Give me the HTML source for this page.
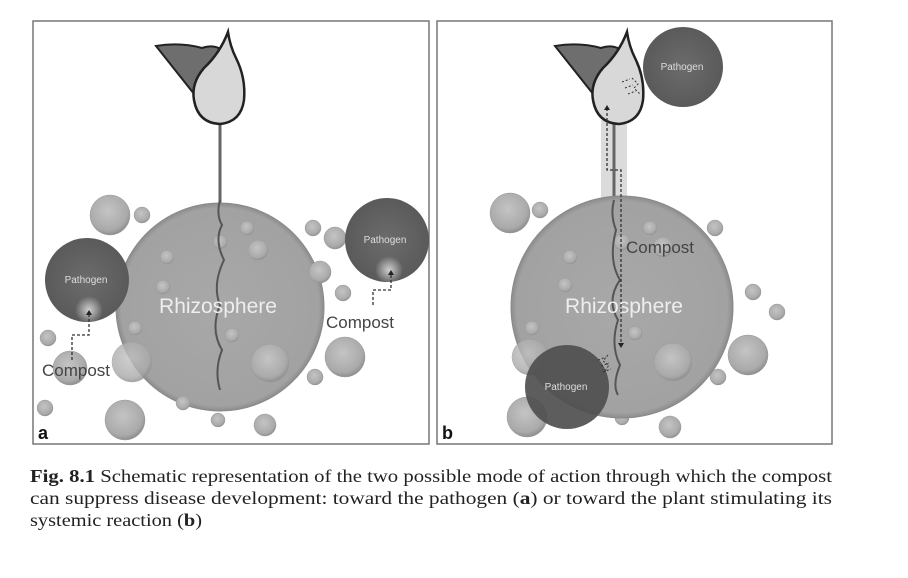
<!DOCTYPE html>
<html><head><meta charset="utf-8"><style>
html,body{margin:0;padding:0;background:#fff;}
svg{display:block}
</style></head><body>
<svg width="908" height="578" viewBox="0 0 908 578" xmlns="http://www.w3.org/2000/svg">
<defs>
<radialGradient id="sm" cx="45%" cy="40%" r="60%"><stop offset="0" stop-color="#c4c4c4"/><stop offset="0.8" stop-color="#aaa"/><stop offset="1" stop-color="#8f8f8f"/></radialGradient>
<radialGradient id="big" cx="50%" cy="50%" r="50%"><stop offset="0" stop-color="#a8a8a8"/><stop offset="0.95" stop-color="#a2a2a2"/><stop offset="1" stop-color="#8c8c8c"/></radialGradient>
<radialGradient id="pa" cx="50%" cy="50%" r="50%"><stop offset="0" stop-color="#6c6c6c"/><stop offset="1" stop-color="#5a5a5a"/></radialGradient>
<radialGradient id="glow"><stop offset="0" stop-color="#fff" stop-opacity="0.7"/><stop offset="1" stop-color="#fff" stop-opacity="0"/></radialGradient>
<g id="flower">
<path d="M-62,-42 Q-38,-46 -16,-40 Q-4,-44 4,-38 L-8,26 Z" fill="#6e6e6e" stroke="#222" stroke-width="2"/>
<path d="M10,-56 Q2,-35 -14,-20 Q-27,-5 -24,12 Q-20,35 2,36 Q23,34 26,12 Q28,-10 18,-30 Q12,-42 10,-56 Z" fill="#d8d8d8" stroke="#222" stroke-width="2.5"/>
</g>
</defs>
<rect width="908" height="578" fill="#fff"/>
<!-- panel a -->
<rect x="33" y="21" width="396" height="423" fill="#fff" stroke="#777" stroke-width="1.5"/>
<line x1="220" y1="122" x2="220" y2="205" stroke="#666" stroke-width="3"/>
<g fill="url(#sm)" stroke="#999" stroke-width="0.5">
<circle cx="110" cy="215" r="20"/><circle cx="142" cy="215" r="8"/><circle cx="313" cy="228" r="8"/><circle cx="335" cy="238" r="11"/>
<circle cx="343" cy="293" r="8"/><circle cx="48" cy="338" r="8"/><circle cx="70" cy="368" r="17"/>
<circle cx="345" cy="357" r="20"/><circle cx="315" cy="377" r="8"/><circle cx="45" cy="408" r="8"/><circle cx="125" cy="420" r="20"/><circle cx="218" cy="420" r="7"/><circle cx="265" cy="425" r="11"/>
</g>
<circle cx="220" cy="307" r="104" fill="url(#big)" stroke="#8a8a8a"/>
<g fill="url(#sm)" stroke="#999" stroke-width="0.5">
<circle cx="132" cy="362" r="20" opacity="0.8"/><circle cx="320" cy="272" r="11"/><circle cx="183" cy="403" r="7"/>
<circle cx="247" cy="228" r="7"/><circle cx="258" cy="250" r="10"/><circle cx="220" cy="242" r="7"/><circle cx="167" cy="257" r="7"/><circle cx="163" cy="287" r="7"/><circle cx="135" cy="328" r="7"/><circle cx="232" cy="335" r="7"/><circle cx="270" cy="363" r="19"/>
</g>
<path d="M220,200 Q216,215 222,225 Q214,240 224,260 Q212,285 220,305 Q210,330 222,350 Q214,370 220,390" fill="none" stroke="#555" stroke-width="2"/>
<text x="218" y="313" font-family="Liberation Sans, sans-serif" font-size="21" fill="#eee" text-anchor="middle">Rhizosphere</text>
<circle cx="87" cy="280" r="42" fill="url(#pa)"/>
<circle cx="387" cy="240" r="42" fill="url(#pa)"/>
<circle cx="89" cy="310" r="14" fill="url(#glow)"/><circle cx="389" cy="270" r="14" fill="url(#glow)"/>
<text x="86" y="283" font-family="Liberation Sans, sans-serif" font-size="10" fill="#ddd" text-anchor="middle">Pathogen</text>
<text x="385" y="243" font-family="Liberation Sans, sans-serif" font-size="10" fill="#ddd" text-anchor="middle">Pathogen</text>
<path d="M72,360 V335 H89 V312" fill="none" stroke="#333" stroke-dasharray="3,2" stroke-width="1.3"/>
<path d="M86,315 l3,-5 l3,5z" fill="#222"/>
<path d="M373,305 V290 H391 V272" fill="none" stroke="#333" stroke-dasharray="3,2" stroke-width="1.3"/>
<path d="M388,275 l3,-5 l3,5z" fill="#222"/>
<text x="42" y="376" font-family="Liberation Sans, sans-serif" font-size="17" fill="#444">Compost</text>
<text x="326" y="328" font-family="Liberation Sans, sans-serif" font-size="17" fill="#444">Compost</text>
<use href="#flower" x="218" y="88"/>
<text x="38" y="439" font-family="Liberation Sans, sans-serif" font-size="18" font-weight="bold" fill="#111">a</text>
<!-- panel b -->
<rect x="437" y="21" width="395" height="423" fill="#fff" stroke="#777" stroke-width="1.5"/>
<rect x="601" y="120" width="26" height="80" fill="#ccc" opacity="0.7"/>
<line x1="614" y1="122" x2="614" y2="205" stroke="#666" stroke-width="3"/>
<g fill="url(#sm)" stroke="#999" stroke-width="0.5">
<circle cx="510" cy="213" r="20"/><circle cx="540" cy="210" r="8"/><circle cx="715" cy="228" r="8"/><circle cx="753" cy="292" r="8"/><circle cx="777" cy="312" r="8"/><circle cx="748" cy="355" r="20"/><circle cx="718" cy="377" r="8"/><circle cx="527" cy="417" r="20"/><circle cx="622" cy="418" r="7"/><circle cx="670" cy="427" r="11"/>
</g>
<circle cx="622" cy="307" r="111" fill="url(#big)" stroke="#8a8a8a"/>
<g fill="url(#sm)" stroke="#999" stroke-width="0.5">
<circle cx="530" cy="357" r="18" opacity="0.8"/>
<circle cx="650" cy="228" r="7"/><circle cx="663" cy="247" r="10"/><circle cx="622" cy="242" r="8"/><circle cx="570" cy="257" r="7"/><circle cx="565" cy="285" r="7"/><circle cx="532" cy="328" r="7"/><circle cx="635" cy="333" r="7"/><circle cx="673" cy="362" r="19"/>
</g>
<path d="M614,200 Q610,215 616,230 Q608,260 620,280 Q606,300 618,320 Q610,345 620,365 Q612,385 618,395" fill="none" stroke="#555" stroke-width="2"/>
<text x="624" y="313" font-family="Liberation Sans, sans-serif" font-size="21" fill="#eee" text-anchor="middle">Rhizosphere</text>
<circle cx="683" cy="67" r="40" fill="url(#pa)"/>
<text x="682" y="70" font-family="Liberation Sans, sans-serif" font-size="10" fill="#ddd" text-anchor="middle">Pathogen</text>
<use href="#flower" x="617" y="88"/>
<circle cx="567" cy="387" r="42" fill="#4f4f4f" opacity="0.92"/>
<text x="566" y="390" font-family="Liberation Sans, sans-serif" font-size="10" fill="#ddd" text-anchor="middle">Pathogen</text>
<path d="M607,108 V170 H621 V345" fill="none" stroke="#333" stroke-dasharray="3,2" stroke-width="1.3"/>
<path d="M604,110 l3,-5 l3,5z" fill="#222"/><path d="M618,343 l3,5 l3,-5z" fill="#222"/>
<g stroke="#333" stroke-width="1" stroke-dasharray="2,2" fill="none">
<path d="M622,82 l8,-3 M625,88 l8,-3 M628,94 l8,-3 M632,78 l6,6 l-4,4 l6,6"/>
<path d="M598,360 l8,-3 M601,366 l8,-3 M603,372 l8,-3 M608,355 l-5,6 l6,4 l-4,6"/>
</g>
<text x="626" y="253" font-family="Liberation Sans, sans-serif" font-size="17" fill="#444">Compost</text>
<text x="442" y="439" font-family="Liberation Sans, sans-serif" font-size="18" font-weight="bold" fill="#111">b</text>
<!-- caption -->
<g font-family="Liberation Serif, serif" font-size="18" fill="#222">
<text x="30" y="482" textLength="802" lengthAdjust="spacingAndGlyphs"><tspan font-weight="bold">Fig. 8.1</tspan>  Schematic representation of the two possible mode of action through which the compost</text>
<text x="30" y="504" textLength="802" lengthAdjust="spacingAndGlyphs">can suppress disease development: toward the pathogen (<tspan font-weight="bold">a</tspan>) or toward the plant stimulating its</text>
<text x="30" y="526" textLength="172" lengthAdjust="spacingAndGlyphs">systemic reaction (<tspan font-weight="bold">b</tspan>)</text>
</g>
</svg>
</body></html>
